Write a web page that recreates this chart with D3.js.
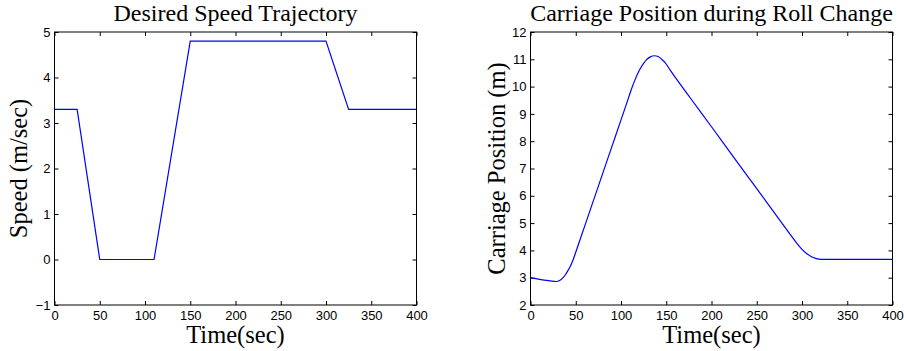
<!DOCTYPE html>
<html>
<head>
<meta charset="utf-8">
<title>Speed and Carriage Position</title>
<script src="https://d3js.org/d3.v7.min.js"></script>
<style>
  body { margin: 0; background: #fff; }
  svg { font-family: "Liberation Serif", "Times New Roman", serif; }
  .tick text { font-size: 13px; fill: #000; }
  .tick line { stroke: #000; }
  .title { font-size: 24px; fill: #000; }
  .label { font-size: 24.5px; fill: #000; }
</style>
</head>
<body>
<div id="chart"></div>
<script>
// desired speed trajectory (m/sec)
var speedTime  = [0, 25, 50, 110, 150, 300, 325, 400];
var speedValue = [3.3, 3.3, 0, 0, 4.8, 4.8, 3.3, 3.3];

// carriage position (m)
var posTime  = [0, 10, 20, 26, 28, 30, 32, 35, 38, 41, 44, 47, 50, 55, 60, 70, 80, 90, 100, 107, 112, 115, 120, 125, 128, 132, 137, 141, 146, 149, 154, 160, 176, 200, 225, 250, 275, 290, 295, 300, 305, 310, 315, 319, 322, 400];
var posValue = [3.00, 2.94, 2.89, 2.865, 2.86, 2.869, 2.895, 2.968, 3.08, 3.24, 3.42, 3.65, 3.93, 4.42, 4.90, 5.87, 6.84, 7.81, 8.78, 9.46, 9.95, 10.21, 10.58, 10.85, 10.98, 11.08, 11.13, 11.10, 10.97, 10.87, 10.62, 10.34, 9.61, 8.53, 7.39, 6.26, 5.13, 4.45, 4.23, 4.04, 3.89, 3.78, 3.71, 3.68, 3.67, 3.67];

var timeTicks  = [0, 50, 100, 150, 200, 250, 300, 350, 400];
var speedTicks = [-1, 0, 1, 2, 3, 4, 5];
var posTicks   = [2, 3, 4, 5, 6, 7, 8, 9, 10, 11, 12];

var svg = d3.select("#chart").append("svg")
  .attr("width", 904)
  .attr("height", 351);

function drawPanel(opts) {
  var left = opts.left, top = 32, w = 362, h = 273;

  var x = d3.scaleLinear().domain([0, 400]).range([0, w]);
  var y = d3.scaleLinear().domain(opts.yDomain).range([h, 0]);

  var g = svg.append("g")
    .attr("transform", "translate(" + left + "," + top + ")");

  // bottom axis with labels, ticks pointing inward
  g.append("g")
    .attr("transform", "translate(0," + h + ")")
    .call(d3.axisBottom(x).tickValues(timeTicks).tickSize(-4).tickPadding(6).tickFormat(d3.format("d")))
    .call(function (a) { a.select(".domain").remove(); });

  // top axis, ticks only
  g.append("g")
    .call(d3.axisTop(x).tickValues(timeTicks).tickSize(-4).tickFormat(""))
    .call(function (a) { a.select(".domain").remove(); });

  // left axis with labels
  g.append("g")
    .call(d3.axisLeft(y).tickValues(opts.yTicks).tickSize(-4).tickPadding(4).tickFormat(d3.format("d")))
    .call(function (a) { a.select(".domain").remove(); });

  // right axis, ticks only
  g.append("g")
    .attr("transform", "translate(" + w + ",0)")
    .call(d3.axisRight(y).tickValues(opts.yTicks).tickSize(-4).tickFormat(""))
    .call(function (a) { a.select(".domain").remove(); });

  // box
  g.append("rect")
    .attr("x", 0).attr("y", 0)
    .attr("width", w).attr("height", h)
    .attr("fill", "none")
    .attr("stroke", "#000")
    .attr("stroke-width", 1);

  var line = d3.line()
    .x(function (d) { return x(d[0]); })
    .y(function (d) { return y(d[1]); });
  if (opts.smooth) line.curve(d3.curveMonotoneX);

  var pts = opts.xs.map(function (t, i) { return [t, opts.ys[i]]; });

  g.append("path")
    .datum(pts)
    .attr("fill", "none")
    .attr("stroke", "#0000ff")
    .attr("stroke-width", 1.2)
    .attr("d", line);

  // title
  svg.append("text")
    .attr("class", "title")
    .attr("x", left + w / 2)
    .attr("y", 21)
    .attr("text-anchor", "middle")
    .text(opts.title);

  // x label
  svg.append("text")
    .attr("class", "label")
    .attr("x", left + w / 2)
    .attr("y", 343)
    .attr("text-anchor", "middle")
    .text("Time(sec)");

  // y label
  svg.append("text")
    .attr("class", "label")
    .attr("transform", "translate(" + opts.yLabelX + "," + (top + h / 2) + ") rotate(-90)")
    .attr("text-anchor", "middle")
    .text(opts.yLabel);
}

drawPanel({
  left: 54.5,
  yDomain: [-1, 5],
  yTicks: speedTicks,
  xs: speedTime,
  ys: speedValue,
  smooth: false,
  title: "Desired Speed Trajectory",
  yLabel: "Speed (m/sec)",
  yLabelX: 27
});

drawPanel({
  left: 530.5,
  yDomain: [2, 12],
  yTicks: posTicks,
  xs: posTime,
  ys: posValue,
  smooth: true,
  title: "Carriage Position during Roll Change",
  yLabel: "Carriage Position (m)",
  yLabelX: 504.5
});
</script>
</body>
</html>
